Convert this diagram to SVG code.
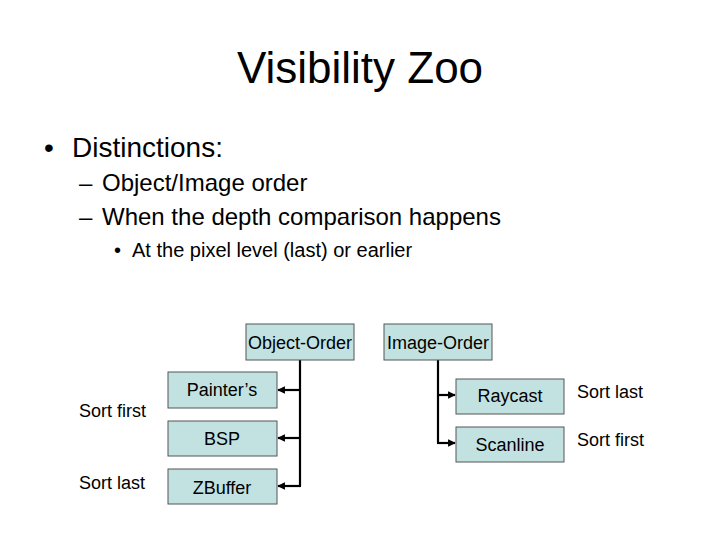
<svg xmlns="http://www.w3.org/2000/svg" width="720" height="540" viewBox="0 0 720 540">
<defs>
<marker id="ah" viewBox="0 0 10 10" refX="9" refY="5" markerWidth="4" markerHeight="3.5" orient="auto" markerUnits="strokeWidth">
<path d="M0,0 L10,5 L0,10 z" fill="#000"/>
</marker>
<style>
text{font-family:"Liberation Sans",Arial,sans-serif;fill:#000}
.box{fill:#c2e2e2;stroke:#555;stroke-width:1}
.lbl{font-size:18px;text-anchor:middle}
.side{font-size:18px}
.conn{fill:none;stroke:#000;stroke-width:2.2}
</style>
</defs>
<rect width="720" height="540" fill="#fff"/>
<text x="360" y="83" font-size="44" text-anchor="middle">Visibility Zoo</text>
<text x="44" y="157" font-size="28">•</text>
<text x="72" y="157" font-size="28">Distinctions:</text>
<text x="79" y="191" font-size="24">–</text>
<text x="102" y="191" font-size="24">Object/Image order</text>
<text x="79" y="225" font-size="24">–</text>
<text x="102" y="225" font-size="24">When the depth comparison happens</text>
<text x="114" y="257" font-size="20">•</text>
<text x="132" y="257" font-size="20">At the pixel level (last) or earlier</text>

<g id="connectors">
<path class="conn" d="M300,360 V486"/>
<path class="conn" d="M300,390 H278" marker-end="url(#ah)"/>
<path class="conn" d="M300,438 H278" marker-end="url(#ah)"/>
<path class="conn" d="M301,486 H278" marker-end="url(#ah)"/>
<path class="conn" d="M438,360 V443"/>
<path class="conn" d="M437,395 H455" marker-end="url(#ah)"/>
<path class="conn" d="M437,443 H455" marker-end="url(#ah)"/>
</g>

<g id="object-order"><rect class="box" x="246" y="324" width="108" height="36"/><text class="lbl" x="300" y="349">Object-Order</text></g>
<g id="image-order"><rect class="box" x="384" y="324" width="108" height="36"/><text class="lbl" x="438" y="349">Image-Order</text></g>
<g id="painters"><rect class="box" x="168" y="372" width="109" height="36"/><text class="lbl" x="222" y="396">Painter’s</text></g>
<g id="bsp"><rect class="box" x="168" y="421" width="109" height="35"/><text class="lbl" x="222" y="445">BSP</text></g>
<g id="zbuffer"><rect class="box" x="168" y="469" width="109" height="35"/><text class="lbl" x="222" y="494">ZBuffer</text></g>
<g id="raycast"><rect class="box" x="456" y="379" width="108" height="35"/><text class="lbl" x="510" y="402">Raycast</text></g>
<g id="scanline"><rect class="box" x="456" y="427" width="108" height="35"/><text class="lbl" x="510" y="451">Scanline</text></g>

<text class="side" x="577" y="398">Sort last</text>
<text class="side" x="577" y="446">Sort first</text>
<text class="side" x="79" y="417">Sort first</text>
<text class="side" x="79" y="489">Sort last</text>
</svg>
